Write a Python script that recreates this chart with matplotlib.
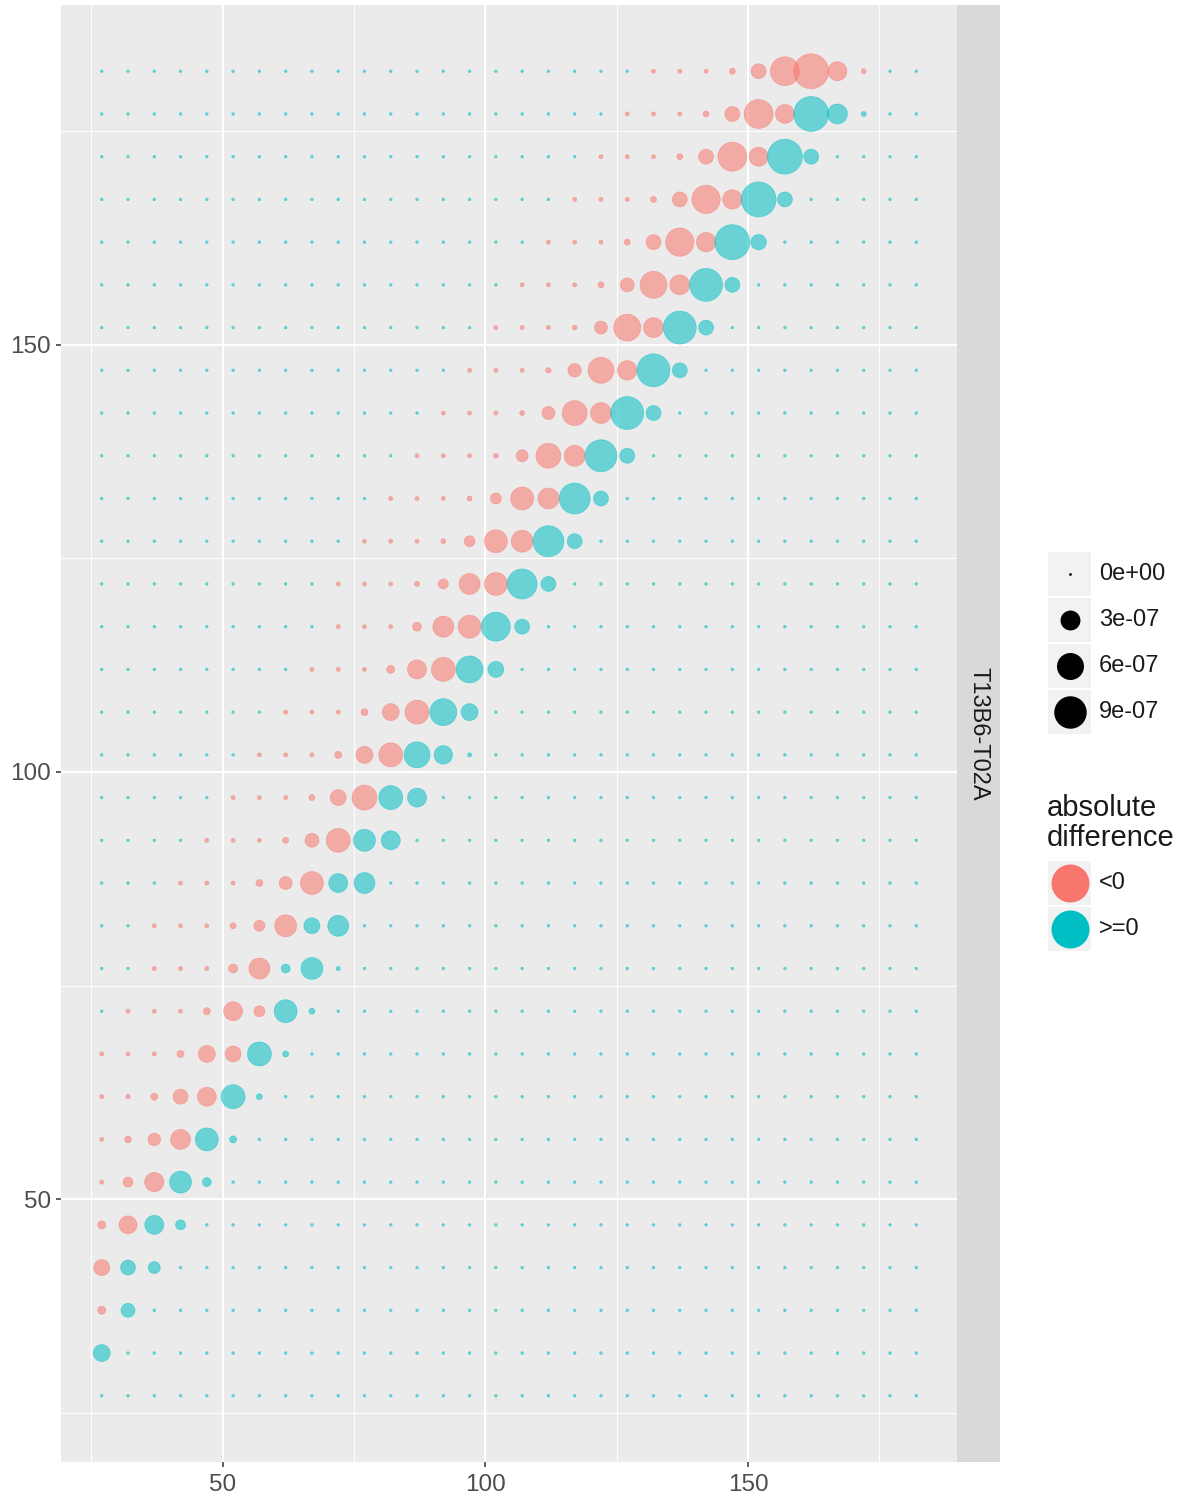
import numpy as np
import matplotlib
matplotlib.use("Agg")
import matplotlib.pyplot as plt
from matplotlib.patches import Rectangle

plt.rcParams['font.family'] = ['Liberation Sans', 'DejaVu Sans']

# grid positions of the points (same on both axes)
x_levels = [27, 32, 37, 42, 47, 52, 57, 62, 67, 72, 77, 82, 87, 92, 97, 102,
            107, 112, 117, 122, 127, 132, 137, 142, 147, 152, 157, 162, 167, 172, 177, 182]
y_levels = [27, 32, 37, 42, 47, 52, 57, 62, 67, 72, 77, 82, 87, 92, 97, 102,
            107, 112, 117, 122, 127, 132, 137, 142, 147, 152, 157, 162, 167, 172, 177, 182]

# signed difference per row, in units of 1e-7 (all other cells are 0)
# row_start = column index of the first listed value in that row
row_start = [0, 0, 0, 0, 0, 0, 0, 0, 0, 1, 2, 2, 3, 4, 5, 6,
             7, 8, 9, 9, 10, 11, 12, 13, 14, 15, 16, 17, 18, 19, 20, 21]
row_vals = [
    [],
    [2.08],
    [-0.29, 1.30],
    [-1.80, 1.54, 0.88],
    [-0.29, -2.38, 2.70, 0.54],
    [-0.02, -0.54, -2.80, 3.78, 0.40],
    [-0.02, -0.15, -1.00, -3.04, 4.19, 0.19],
    [-0.02, -0.03, -0.20, -1.54, -2.70, 4.61, 0.11],
    [-0.02, -0.02, -0.02, -0.19, -2.08, -1.80, 4.61, 0.11],
    [-0.02, -0.02, -0.02, -0.19, -2.70, -0.70, 4.19, 0.11],
    [-0.02, -0.02, -0.02, -0.40, -3.40, 0.40, 3.78, 0.02],
    [-0.02, -0.02, -0.02, -0.11, -0.70, -3.78, 1.80, 3.40],
    [-0.02, -0.02, -0.02, -0.19, -1.08, -4.19, 2.70, 3.40],
    [-0.02, -0.02, -0.02, -0.11, -1.30, -4.61, 3.78, 2.70],
    [-0.02, -0.02, -0.02, -0.11, -1.80, -5.05, 4.61, 2.70],
    [-0.02, -0.02, -0.02, -0.19, -2.08, -4.61, 5.52, 2.55, 0.02],
    [-0.02, -0.02, -0.02, -0.19, -2.08, -4.61, 6.00, 2.08],
    [-0.02, -0.02, -0.02, -0.29, -2.70, -4.61, 6.00, 1.80],
    [-0.02, -0.02, -0.02, -0.40, -3.40, -4.19, 7.03, 1.54],
    [-0.02, -0.02, -0.02, -0.05, -0.54, -3.40, -4.19, 7.60, 1.54],
    [-0.02, -0.02, -0.02, -0.05, -0.70, -4.19, -3.78, 8.14, 1.54],
    [-0.02, -0.02, -0.02, -0.05, -0.70, -4.19, -3.40, 8.14, 1.54],
    [-0.02, -0.02, -0.02, -0.05, -0.88, -5.05, -3.40, 8.72, 1.54],
    [-0.02, -0.02, -0.02, -0.05, -1.08, -5.05, -3.40, 9.33, 1.54],
    [-0.02, -0.02, -0.02, -0.08, -1.20, -5.52, -2.87, 9.33, 1.54],
    [-0.02, -0.02, -0.02, -0.05, -1.08, -6.00, -3.04, 9.33, 1.54],
    [-0.02, -0.02, -0.02, -0.11, -1.30, -6.00, -3.04, 9.33, 1.54],
    [-0.02, -0.02, -0.02, -0.11, -1.54, -6.70, -2.87, 10.6, 1.67],
    [-0.02, -0.02, -0.02, -0.11, -1.54, -6.70, -2.87, 10.6, 1.54],
    [-0.02, -0.02, -0.02, -0.11, -1.54, -7.03, -2.70, 10.6, 1.54],
    [-0.02, -0.02, -0.02, -0.11, -1.54, -7.03, -2.70, 10.6, 3.04, 0.05],
    [-0.02, -0.02, -0.02, -0.11, -1.54, -7.03, -10.6, -2.70, -0.05],
]

size_breaks = [0, 3, 6, 9]
size_labels = ['0e+00', '3e-07', '6e-07', '9e-07']
colour_title = ['absolute', 'difference']
colour_labels = ['<0', '>=0']
facet_label = 'T13B6-T02A'

RED = '#F8766D'
CYAN = '#00BFC4'
W, H, DPI = 1185, 1500, 100


def diam_px(v):
    # ggplot-like area scale: diameter grows with sqrt of |value|
    return 2.7 + 32.3 * np.sqrt(np.abs(v) / 10.6)


def marker_area(v):
    return (diam_px(v) * 72.0 / DPI) ** 2


xs, ys, vs = [], [], []
for j, y in enumerate(y_levels):
    row = np.zeros(len(x_levels))
    row[row_start[j]:row_start[j] + len(row_vals[j])] = row_vals[j]
    for i, x in enumerate(x_levels):
        xs.append(x)
        ys.append(y)
        vs.append(row[i])
vs = np.array(vs)
cols = np.where(vs < 0, RED, CYAN)

fig = plt.figure(figsize=(W / DPI, H / DPI), dpi=DPI)


def px_axes(x0, y0, x1, y1):
    return fig.add_axes([x0 / W, 1 - y1 / H, (x1 - x0) / W, (y1 - y0) / H])


ax = px_axes(61, 5, 957, 1462)
ax.set_facecolor('#EBEBEB')
ax.scatter(xs, ys, s=marker_area(vs), c=cols, edgecolors=cols,
           linewidths=0.45, alpha=0.55, zorder=3)

pad = 0.05 * (max(x_levels) - min(x_levels))
ax.set_xlim(min(x_levels) - pad, max(x_levels) + pad)
pad = 0.05 * (max(y_levels) - min(y_levels))
ax.set_ylim(min(y_levels) - pad, max(y_levels) + pad)
ax.set_xticks([50, 100, 150])
ax.set_yticks([50, 100, 150])
ax.set_xticks([25, 75, 125, 175], minor=True)
ax.set_yticks([25, 75, 125, 175], minor=True)
ax.grid(which='major', color='white', linewidth=1.5)
ax.grid(which='minor', color='white', linewidth=0.7)
ax.set_axisbelow(True)
for sp in ax.spines.values():
    sp.set_visible(False)
ax.tick_params(which='major', length=3.4, width=1.1, color='#333333',
               labelsize=17.5, labelcolor='#4D4D4D')
ax.tick_params(axis='x', which='major', pad=5)
ax.tick_params(axis='y', which='major', pad=4)
ax.tick_params(which='minor', length=0)

# facet strip
sax = px_axes(957, 5, 1000, 1462)
sax.set_facecolor('#D9D9D9')
sax.set_xticks([])
sax.set_yticks([])
for sp in sax.spines.values():
    sp.set_visible(False)
sax.text(0.5, 0.5, facet_label, rotation=-90, ha='center', va='center',
         fontsize=17, color='#1A1A1A', transform=sax.transAxes)

# legends, drawn in pixel coordinates
lax = fig.add_axes([0, 0, 1, 1], zorder=5)
lax.set_xlim(0, W)
lax.set_ylim(H, 0)
lax.axis('off')

for k, (b, lab) in enumerate(zip(size_breaks, size_labels)):
    cy = 574 + 46 * k
    lax.add_patch(Rectangle((1048, cy - 22), 43, 44, facecolor='#F2F2F2', edgecolor='none'))
    lax.scatter([1070], [cy], s=marker_area(b), c='black', linewidths=0)
    lax.text(1099, cy, lab, ha='left', va='center', fontsize=17, color='#1A1A1A')

for k, line in enumerate(colour_title):
    lax.text(1047, 808 + 30 * k, line, ha='left', va='center', fontsize=21, color='#1A1A1A')

for k, (c, lab) in enumerate(zip([RED, CYAN], colour_labels)):
    cy = 883 + 46 * k
    lax.add_patch(Rectangle((1048, cy - 22), 43, 44, facecolor='#F2F2F2', edgecolor='none'))
    lax.scatter([1070], [cy], s=(38 * 72.0 / DPI) ** 2, c=c, linewidths=0)
    lax.text(1099, cy, lab, ha='left', va='center', fontsize=17, color='#1A1A1A')

fig.savefig('out.png', dpi=DPI)
